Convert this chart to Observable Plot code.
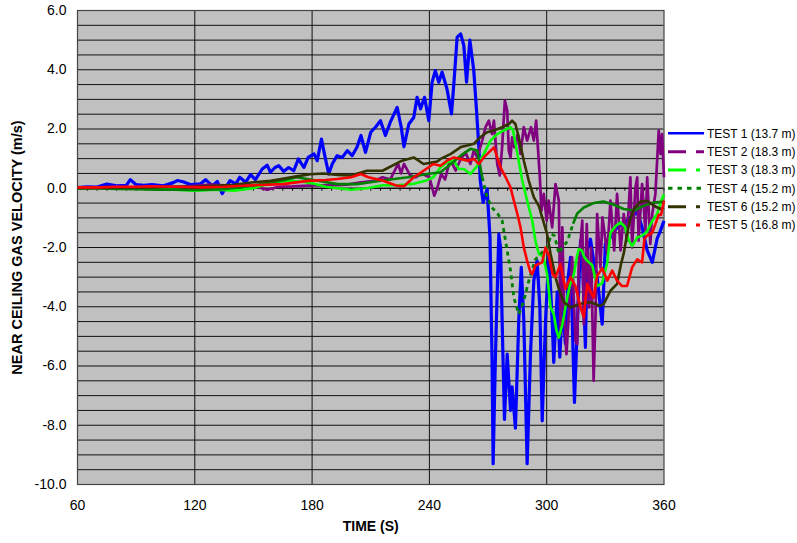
<!DOCTYPE html>
<html><head><meta charset="utf-8">
<script src="https://cdn.jsdelivr.net/npm/d3@7"></script>
<script src="https://cdn.jsdelivr.net/npm/@observablehq/plot@0.6"></script>
<style>
body{margin:0;background:#fff;}
#wrap{position:relative;width:797px;height:543px;font-family:"Liberation Sans",Arial,sans-serif;}
#legend{position:absolute;left:0;top:0;pointer-events:none;}
</style></head><body><div id="wrap"></div>
<script>
// ---- data ----
const xTicks = [60, 120, 180, 240, 300, 360];
const yTicks = [-10, -8, -6, -4, -2, 0, 2, 4, 6];
const legendLabels = ["TEST 1 (13.7 m)", "TEST 2 (18.3 m)", "TEST 3 (18.3 m)", "TEST 4 (15.2 m)", "TEST 6 (15.2 m)", "TEST 5 (16.8 m)"];
const seriesColors = ["#0000ff", "#800080", "#00ff00", "#008000", "#333300", "#ff0000"];
const legendDash = [null, "18,10", "18,10,4,10", "4.5,5", "18,10,4,10", "18,10,4,10"];

const test1Time = [60,65,70,75,80,85,87,90,94,98,104,109,111,114,118,123,125.5,129,131.5,134,138,141,143,146,148.5,151,154.5,157,158.7,161,163,165.5,168,170.6,173,175.8,178,181,182.6,184.8,186.3,188.5,190.3,192.8,195.4,198,200.5,203,205,207.3,210,212.4,215,217.5,220,223.5,225.6,227,229.5,232,233.7,235.5,237.5,239.7,241.4,243,244.8,246.5,249,251.3,252.5,254.2,256,257.6,259,260.7,262.7,264,265.3,266,267.5,269.5,271,272,272.6,273.8,275.5,276.4,277.2,278.4,279.8,281.5,282.3,284,285.7,287,288.3,290,291.7,293.4,295.1,296.5,297.7,299.4,301.1,302.8,303.6,305.4,306.7,308,309.6,311,312.2,314.2,316.4,317.3,318.2,319.8,320.7,322.4,324,325.8,328.4,330,332.6,336,339.4,342.8,346.3,348.8,351.4,354,356.5,358.2,360];
const test1Vel = [0.02,0.05,0.04,0.14,0.08,0.1,0.29,0.12,0.1,0.12,0.08,0.19,0.26,0.22,0.12,0.15,0.29,0.08,0.23,-0.18,0.26,0.15,0.37,0.2,0.46,0.29,0.65,0.78,0.54,0.7,0.76,0.57,0.7,0.59,0.99,0.7,1.04,1.16,0.93,1.66,1.16,0.48,0.82,1.1,1.04,1.27,1.1,1.39,1.78,1.21,1.89,2.06,2.28,1.78,2.23,2.73,2.06,1.4,2.17,2.39,3.07,2.68,3.07,2.28,3.58,3.97,3.58,3.92,3.35,2.51,3.52,5.1,5.21,4.82,3.58,5.0,3.97,2.73,1.39,0.26,-0.48,-0.03,-1.66,-5.6,-9.3,-5.6,-1.55,-2.0,-4.47,-7.8,-5.6,-7.5,-6.7,-8.1,-4.47,-2.67,-4.47,-9.3,-5.6,-3.12,-2.45,-4.02,-7.85,-4.47,-2.22,-4.47,-5.88,-3.5,-5.7,-4.0,-5.25,-3.0,-2.33,-7.23,-3.34,-1.77,-2.16,-5.37,-2.1,-1.72,-2.45,-3.0,-4.59,-1.88,-1.66,-1.32,-1.2,-0.98,-0.81,-1.32,-2.1,-2.5,-1.7,-1.43,-1.1];

const test2Time = [60,70,80,90,100,110,120,128,135,142,150,157,163,170,181,190,198,205,212,216,220,224,225.5,227,230,233,236,240,242.5,244,246,248,250,251,253.4,256,258.5,261,262.7,264.5,267,268.7,270.4,272,273,274.7,276,277.2,278.6,279.8,280.6,281.5,282.3,283.5,285.2,286.6,288.3,290,292,293.4,294.6,295.6,296.5,297.3,298.5,300,301,302.8,304.5,306.2,307.1,308,308.8,310.1,311.3,313,314.7,315.6,316.4,318.2,319,320.5,321.6,322.7,324,325,325.8,327.5,328.5,331,332.6,334.5,336,337.8,339.4,341,342.8,343.7,345.4,346.3,347,348.8,350.5,351.4,353,354,355.6,357.3,358.2,359,360];
const test2Vel = [0,0.02,0.05,0.03,0.05,0.04,0.08,0.12,0.1,0.1,0.08,-0.05,0.05,0.06,0.1,0.1,0.12,0.2,0.25,0.37,0.3,0.82,0.5,0.82,0.45,0.37,0.5,0.37,-0.25,0.0,0.48,0.3,0.82,0.93,0.6,0.99,1.21,0.82,1.27,1.04,1.61,2.06,2.28,1.83,2.28,0.82,0.43,1.39,2.96,2.62,1.27,1.04,1.72,1.38,1.83,1.16,2.06,1.61,2.06,1.61,2.28,1.27,0.37,-0.76,-0.19,-1.09,-0.42,-1.32,0.14,-0.42,-4.92,-1.32,-4.02,-5.6,-4.25,-2.33,-5.15,-5.26,-2.56,-1.09,-4.59,-1.21,-4.02,-2.0,-6.5,-4.25,-0.87,-2.67,-0.98,-2.22,-0.42,-2.1,-0.19,-2.1,-0.87,-1.77,0.37,-2.0,0.03,0.37,-1.77,0.14,-1.43,0.37,-1.88,-0.87,-0.19,1.95,1.16,1.83,0.37];

const test3Time = [60,70,80,90,100,110,120,131,140,150,155,160,168,175,181,187,193,200,208,216,224,232,238,242,245.7,249,252.5,255,257.6,261,264.5,267.8,271.3,274.7,278,281.5,282.8,285,287.5,290,292.6,294.3,296,298.2,300.2,302,303.6,305,306.2,308,310.5,312,313.9,315.5,316.4,318,319,320.7,323.3,325.8,328.4,331,332.6,335.2,337.8,340,342,343.7,346.3,348.8,351.4,354,356.5,358.2,360];
const test3Vel = [0,0,0.02,0,-0.02,-0.05,-0.08,-0.05,-0.08,0.0,0.1,0.2,0.25,0.22,0.15,0.05,0.0,-0.05,0.0,0.1,0.1,0.15,0.25,0.37,0.71,0.88,0.93,0.65,0.65,0.48,0.76,1.16,1.61,1.83,1.95,2.06,1.95,1.16,0.26,-0.42,-1.09,-1.8,-2.22,-2.3,-2.9,-4.02,-4.25,-4.8,-5.04,-4.6,-3.7,-3.23,-2.9,-2.3,-2.05,-2.1,-2.3,-2.45,-2.6,-3.3,-3.2,-2.5,-1.5,-1.28,-1.15,-1.3,-1.77,-1.95,-1.66,-1.6,-1.45,-1.1,-0.87,-0.5,-0.2];

const test4Time = [60,70,80,90,100,110,120,127,135,145,155,165,172,182,193,203,216,229,239,245.7,251,256,261,264.5,267,269.5,272,275,277.2,279.5,281.5,283.2,285.7,288.3,290.5,294.2,296.8,300.2,302.4,304,306.2,308,310.5,313.5,315.6,319,324,329,334,339.4,344.6,349.7,354.8,360];
const test4Vel = [0,0,-0.02,-0.03,-0.05,-0.05,-0.06,-0.05,-0.03,0.05,0.15,0.26,0.37,0.26,0.14,0.14,0.26,0.37,0.48,0.54,0.82,1.1,1.33,1.27,0.37,-0.3,-0.65,-0.87,-1.09,-2.0,-2.78,-3.69,-4.25,-3.8,-3.2,-2.4,-2.22,-2.0,-1.55,-1.6,-2.2,-2.0,-1.8,-1.2,-0.85,-0.65,-0.5,-0.45,-0.55,-0.7,-0.75,-0.59,-0.48,-0.45];

const test6Time = [60,70,80,90,100,110,120,130,140,150,158.7,165,172,179,186,193,200,208,216,226,232,237,244,245.7,251,256,259.4,262.7,266,269.5,273,277.2,280.6,282.3,284,285.7,288.3,290.8,293.4,296,297.7,300.2,302,304.5,306.2,308.8,312.2,317.3,322.4,327.5,329.2,332.6,336,338,339.4,340.8,342.5,344.6,348,351.4,354.8,358.2,360];
const test6Vel = [0,0,0.02,0.02,0.03,0.05,0.05,0.08,0.12,0.2,0.25,0.32,0.4,0.47,0.5,0.45,0.43,0.59,0.59,0.93,1.04,0.82,0.9,0.99,1.16,1.39,1.44,1.5,1.72,1.89,1.95,2.06,2.17,2.28,2.17,1.72,0.93,0.26,-0.3,-0.6,-0.98,-1.55,-2.22,-3.0,-3.4,-3.85,-4.02,-3.9,-3.85,-3.97,-3.9,-3.46,-3.23,-2.56,-2.2,-1.66,-1.1,-0.7,-0.45,-0.42,-0.59,-0.7,-0.65];

const test5Time = [60,70,80,90,97,110,123,135,150,165,178,187,193,200,205,208.8,216,223,227,232,237,242,245.7,249,252.5,256,259.4,262.7,265.3,267.8,270.4,273,274.7,276.4,279,281.5,283.2,285,286.6,288.3,290,291.7,292.6,294.3,297.7,299.4,301,303,304.5,307,309.6,312.2,314.7,317.3,319,320.7,322.5,324,325.8,328.4,331,333.5,336,338.5,341.1,343.7,346.3,348.8,350,351.4,354,355.6,357.3,358.5,360];
const test5Vel = [0.03,0.03,0.05,0.05,0.07,0.05,0.03,0.05,0.1,0.14,0.25,0.28,0.31,0.37,0.48,0.37,0.26,0.09,0.07,0.37,0.59,0.82,0.76,0.93,1.04,0.99,0.93,0.99,0.82,1.04,1.21,1.38,1.04,0.71,0.37,0.03,-0.42,-0.87,-1.32,-2.0,-2.45,-2.84,-2.9,-2.6,-2.5,-2.0,-2.25,-2.9,-3.0,-2.56,-3.4,-3.0,-3.3,-4.02,-4.36,-3.23,-3.5,-3.69,-2.95,-2.7,-3.12,-2.78,-3.12,-3.3,-3.3,-2.67,-2.4,-2.5,-1.7,-1.6,-1.5,-1.21,-0.9,-0.9,-0.42];

// ---- assemble ----
const rows = (T, V) => T.map((t, i) => ({t, v: V[i]}));
const s1 = rows(test1Time, test1Vel);
const s2 = rows(test2Time, test2Vel);
const s3 = rows(test3Time, test3Vel);
const s4 = rows(test4Time, test4Vel);
const s6 = rows(test6Time, test6Vel);
const s5 = rows(test5Time, test5Vel);

const FONT = '"Liberation Sans", Arial, sans-serif';
const line = (data, color, w, extra = {}) =>
  Plot.line(data, {x: "t", y: "v", stroke: color, strokeWidth: w, strokeLinejoin: "round", strokeLinecap: "butt", ...extra});

const chart = Plot.plot({
  width: 797, height: 543,
  marginLeft: 77, marginRight: 133.5, marginTop: 10, marginBottom: 59,
  style: {fontFamily: FONT, background: "transparent", overflow: "visible"},
  x: {domain: [60, 360]},
  y: {domain: [-10, 6]},
  marks: [
    Plot.frame({fill: "#c0c0c0", stroke: null}),
    Plot.ruleY(d3.range(-9.5, 6, 0.5), {stroke: "#111", strokeWidth: 1}),
    Plot.ruleX(xTicks.slice(1, -1), {stroke: "#111", strokeWidth: 1}),
    Plot.ruleY([0], {stroke: "#000", strokeWidth: 1}),
    Plot.ruleX(d3.range(60, 361, 5), {y1: 0, y2: -0.1, stroke: "#000", strokeWidth: 1}),
    Plot.frame({stroke: "#444", strokeWidth: 1.2}),
    Plot.axisY({ticks: yTicks, tickFormat: d => d.toFixed(1), tickSize: 0, tickPadding: 11, fontSize: 14, label: null, fill: "#000"}),
    Plot.axisX({ticks: xTicks, tickFormat: d => String(d), tickSize: 0, tickPadding: 16, fontSize: 14, label: null, fill: "#000"}),
    Plot.text(["NEAR CEILING GAS VELOCITY (m/s)"], {frameAnchor: "left", textAnchor: "middle", rotate: -90, dx: -60, fontSize: 14.5, fontWeight: "bold", fill: "#000"}),
    Plot.text(["TIME (S)"], {frameAnchor: "bottom", dy: 46, fontSize: 14, fontWeight: "bold", fill: "#000"}),
    line(s1, seriesColors[0], 3.2),
    line(s2, seriesColors[1], 2.7),
    line(s3, seriesColors[2], 2.6),
    line(s4, seriesColors[3], 2.6, {filter: d => d.t <= 267}),
    line(s4, seriesColors[3], 2.8, {filter: d => d.t >= 267 && d.t <= 313.5, strokeDasharray: "4,4"}),
    line(s4, seriesColors[3], 2.6, {filter: d => d.t >= 313.5}),
    line(s6, seriesColors[4], 2.6),
    line(s5, seriesColors[5], 2.6)
  ]
});

const wrap = document.getElementById("wrap");
wrap.appendChild(chart);

// ---- legend ----
const legendTop = 133.3, legendStep = 18.35;
const lg = d3.select(wrap).append("svg").attr("id", "legend")
  .attr("width", 797).attr("height", 543);
legendLabels.forEach((lab, i) => {
  const y = legendTop + i * legendStep;
  lg.append("line").attr("x1", 668).attr("x2", 704).attr("y1", y).attr("y2", y)
    .attr("stroke", seriesColors[i]).attr("stroke-width", i === 0 ? 2.4 : 3)
    .attr("stroke-dasharray", legendDash[i]);
  lg.append("text").attr("x", 707).attr("y", y).attr("dy", "0.35em")
    .attr("font-family", FONT).attr("font-size", 12).attr("fill", "#000").text(lab);
});
</script></body></html>
